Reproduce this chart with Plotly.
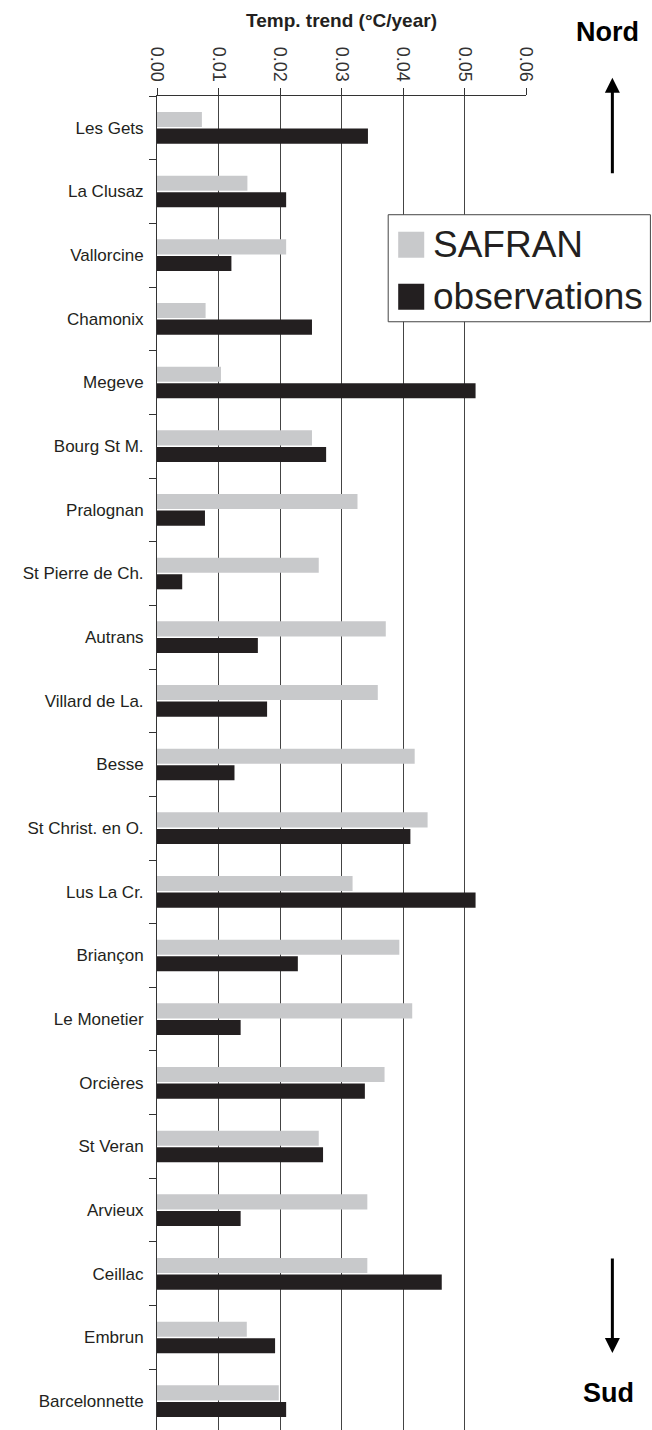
import plotly.graph_objects as go

stations = ["Les Gets", "La Clusaz", "Vallorcine", "Chamonix", "Megeve", "Bourg St M.",
            "Pralognan", "St Pierre de Ch.", "Autrans", "Villard de La.", "Besse",
            "St Christ. en O.", "Lus La Cr.", "Briançon", "Le Monetier", "Orcières",
            "St Veran", "Arvieux", "Ceillac", "Embrun", "Barcelonnette"]
safran = [0.0073, 0.0147, 0.0210, 0.0079, 0.0104, 0.0252, 0.0326, 0.0263, 0.0372, 0.0359,
          0.0419, 0.0440, 0.0318, 0.0394, 0.0415, 0.0370, 0.0263, 0.0342, 0.0342, 0.0146, 0.0198]
observations = [0.0343, 0.0210, 0.0121, 0.0252, 0.0518, 0.0275, 0.0078, 0.0041, 0.0164, 0.0179,
                0.0126, 0.0412, 0.0518, 0.0229, 0.0136, 0.0338, 0.0270, 0.0136, 0.0463, 0.0192, 0.0210]
x_ticks = [0.00, 0.01, 0.02, 0.03, 0.04, 0.05, 0.06]
x_ticklabels = ["0.00", "0.01", "0.02", "0.03", "0.04", "0.05", "0.06"]

W, H = 652, 1430
L, R_EDGE, T, B = 157, 525.7, 96.3, 1430

def xp(px):
    return (px - L) / (R_EDGE - L)

def yp(py):
    return 1 - (py - T) / (B - T)

GRAY = "#c8c9cb"
BLACK = "#231f20"

fig = go.Figure()
fig.add_trace(go.Bar(y=stations, x=safran, orientation="h", name="SAFRAN",
                     marker=dict(color=GRAY, line=dict(width=0)), showlegend=False))
fig.add_trace(go.Bar(y=stations, x=observations, orientation="h", name="observations",
                     marker=dict(color=BLACK, line=dict(width=0)), showlegend=False))

fig.update_layout(
    width=W, height=H,
    margin=dict(l=L, r=W - R_EDGE, t=T, b=0, pad=0),
    paper_bgcolor="white", plot_bgcolor="white",
    barmode="group", bargap=0.48, bargroupgap=0.09,
    font=dict(family="Liberation Sans, Arial, sans-serif", color=BLACK),
    xaxis=dict(
        side="top", range=[0, 0.06], tickvals=x_ticks, ticktext=x_ticklabels,
        tickangle=90, tickfont=dict(size=18, color="#333"),
        ticks="outside", ticklen=7, tickcolor="#333", tickwidth=1,
        showline=True, linecolor="#333", linewidth=1,
        showgrid=True, gridcolor="#444", gridwidth=1, zeroline=False,
        title=dict(text="<b>Temp. trend (°C/year)</b>", font=dict(size=19, color=BLACK), standoff=14),
        automargin=False,
    ),
    yaxis=dict(
        range=[20.453, -0.5], type="category",
        tickson="boundaries", ticks="outside", ticklen=7, tickcolor="#333", tickwidth=1,
        tickfont=dict(size=17, color=BLACK), ticklabelstandoff=9,
        showline=True, linecolor="#333", linewidth=1, showgrid=False, zeroline=False,
        automargin=False,
    ),
)

# manual legend
fig.add_shape(type="rect", xref="paper", yref="paper",
              x0=xp(388), x1=xp(650), y0=yp(322), y1=yp(215),
              line=dict(color="#444", width=1), fillcolor="white", layer="above")
fig.add_shape(type="rect", xref="paper", yref="paper",
              x0=xp(398), x1=xp(424), y0=yp(258), y1=yp(232),
              line=dict(width=0), fillcolor=GRAY, layer="above")
fig.add_shape(type="rect", xref="paper", yref="paper",
              x0=xp(398), x1=xp(424), y0=yp(310), y1=yp(284),
              line=dict(width=0), fillcolor=BLACK, layer="above")
fig.add_annotation(x=xp(431), y=yp(245), xref="paper", yref="paper", text="SAFRAN",
                   showarrow=False, xanchor="left", yanchor="middle",
                   font=dict(size=37, color=BLACK))
fig.add_annotation(x=xp(431), y=yp(297), xref="paper", yref="paper", text="observations",
                   showarrow=False, xanchor="left", yanchor="middle",
                   font=dict(size=37, color=BLACK))

# Nord / Sud
fig.add_annotation(x=xp(607), y=yp(32), xref="paper", yref="paper", text="<b>Nord</b>",
                   showarrow=False, xanchor="center", yanchor="middle",
                   font=dict(size=27, color="black"))
fig.add_annotation(x=xp(608), y=yp(1393), xref="paper", yref="paper", text="<b>Sud</b>",
                   showarrow=False, xanchor="center", yanchor="middle",
                   font=dict(size=27, color="black"))
fig.add_annotation(x=xp(612), y=yp(78), xref="paper", yref="paper", text="",
                   showarrow=True, ax=0, ay=97, arrowhead=2, arrowsize=1, arrowwidth=3,
                   arrowcolor="black")
fig.add_annotation(x=xp(612), y=yp(1353), xref="paper", yref="paper", text="",
                   showarrow=True, ax=0, ay=-96, arrowhead=2, arrowsize=1, arrowwidth=3,
                   arrowcolor="black")

fig.write_html("out.html", config={"displayModeBar": False},
               post_script="document.body.style.margin='0';document.body.style.overflow='hidden';")
